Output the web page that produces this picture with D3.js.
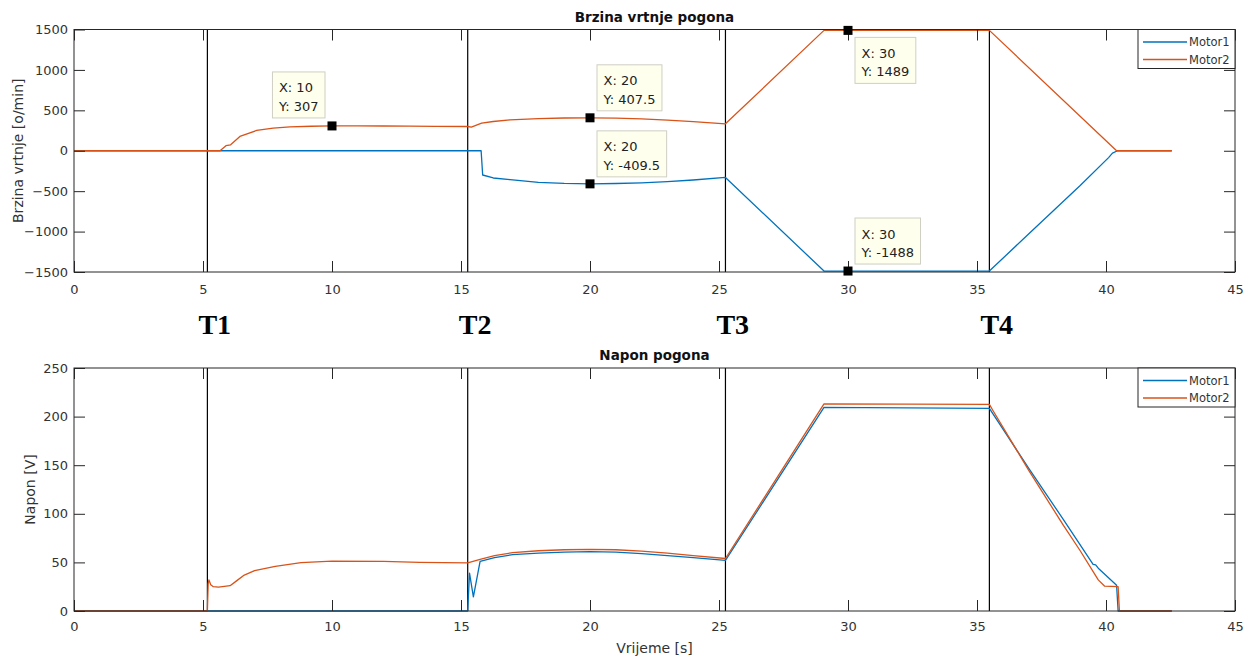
<!DOCTYPE html>
<html>
<head>
<meta charset="utf-8">
<script src="https://cdn.jsdelivr.net/npm/d3@7"></script>
<style>
  html, body { margin: 0; padding: 0; background: #fff; }
  svg { display: block; }
  text { font-family: "DejaVu Sans", sans-serif; }
</style>
</head>
<body>
<svg id="chart" width="1255" height="662"></svg>
<script>
// ---------------- DATA ----------------
const seriesNames = ["Motor1", "Motor2"];
const seriesColors = ["#0072BD", "#D95319"];
const xTicks = [0, 5, 10, 15, 20, 25, 30, 35, 40, 45];
const speedTicks = [-1500, -1000, -500, 0, 500, 1000, 1500];
const voltTicks = [0, 50, 100, 150, 200, 250];

// Speed [o/min]
const speedM1_t = [0, 15.78, 15.84, 16.25, 16.9, 18, 19, 20, 21, 22, 23, 24, 25.25, 29.07, 35.48, 37.0, 39.0, 40.1, 40.25, 40.45, 42.55];
const speedM1_v = [0, 0, -300, -337, -358, -390, -404, -409.5, -405, -397, -382, -362, -330, -1488, -1488, -1030, -430, -85, -30, 0, 0];
const speedM2_t = [0, 5.66, 5.89, 6.07, 6.43, 7.08, 7.72, 8.37, 9.2, 10, 11, 12, 13, 14, 15.26, 15.4, 15.8, 16.25, 16.9, 18, 19, 20, 21, 22, 23, 24, 25.25, 29.07, 35.48, 40.41, 42.55];
const speedM2_v = [0, 0, 62, 74, 177, 251, 280, 295, 303, 307, 308, 306, 304, 302, 300, 293, 342, 362, 383, 398, 405, 407.5, 404, 395, 380, 360, 333, 1489, 1489, 0, 0];

// Voltage [V]
const voltM1_t = [0, 15.26, 15.33, 15.48, 15.74, 16.3, 17, 18, 19, 20, 21, 22, 23, 24, 25.25, 29.07, 35.48, 37.0, 38.35, 39.5, 39.6, 39.7, 40.41, 40.47, 42.55];
const voltM1_v = [0, 0, 39, 14.5, 51, 55, 58, 59.5, 60.5, 61, 60.5, 59, 57, 55, 52, 209.5, 208.5, 147, 94, 48, 47.5, 44, 26.5, 0, 0];
const voltM2_t = [0, 5.17, 5.2, 5.23, 5.3, 5.4, 5.6, 6.05, 6.3, 6.6, 7.0, 7.8, 8.8, 10, 12, 13.4, 15.26, 15.74, 16.3, 17, 18, 19, 20, 21, 22, 23, 24, 25.25, 29.07, 35.48, 35.6, 37.0, 38.35, 39.0, 39.7, 39.95, 40.47, 40.52, 42.55];
const voltM2_v = [0, 0, 28, 32, 27, 25, 24.5, 26, 31, 37, 41.5, 46, 49.7, 51.4, 51, 50, 49.5, 53, 57, 60, 62, 63, 63.5, 63, 61.5, 59.5, 57, 54, 213, 212.5, 207, 145, 88, 62, 32, 25.5, 25, 0, 0];

// Event markers
const eventTimes = [5.17, 15.26, 25.25, 35.48];
const eventLabels = ["T1", "T2", "T3", "T4"];

// Data tips (top plot)
const tipX = [10, 20, 20, 30, 30];
const tipY = [307, 407.5, -409.5, 1489, -1488];
const tipSide = ["ul", "ur", "ur", "lr", "ur"];

// ---------------- LAYOUT ----------------
const svg = d3.select("#chart");
const L = 74, R = 1235;
const panels = [
  { top: 29.5, bottom: 272, domain: [-1500, 1500], ticks: speedTicks, title: "Brzina vrtnje pogona",
    ylabel: "Brzina vrtnje [o/min]", ylabelX: 18, xPad: 12.5,
    data: [[speedM1_t, speedM1_v], [speedM2_t, speedM2_v]] },
  { top: 368, bottom: 611, domain: [0, 250], ticks: voltTicks, title: "Napon pogona",
    ylabel: "Napon [V]", ylabelX: 30, xPad: 11,
    data: [[voltM1_t, voltM1_v], [voltM2_t, voltM2_v]] }
];
const x = d3.scaleLinear().domain([0, 45]).range([L, R]);
const frameColor = "#262626";
const textColor = "#333333";
const TICK = 11;

panels.forEach((p, pi) => {
  const y = d3.scaleLinear().domain(p.domain).range([p.bottom, p.top]);
  p.y = y;
  const g = svg.append("g");

  // vertical event lines
  g.selectAll("line.ev").data(eventTimes).enter().append("line")
    .attr("x1", d => x(d)).attr("x2", d => x(d))
    .attr("y1", p.top).attr("y2", p.bottom)
    .attr("stroke", "#000").attr("stroke-width", 1.2);

  // data lines
  const line = d3.line().x(d => x(d[0])).y(d => y(d[1]));
  p.data.forEach((s, si) => {
    const pts = s[0].map((t, i) => [t, s[1][i]]);
    g.append("path").datum(pts).attr("d", line)
      .attr("fill", "none").attr("stroke", seriesColors[si])
      .attr("stroke-width", 1.3).attr("stroke-linejoin", "round");
  });

  // axes
  const styleAxis = sel => {
    sel.select(".domain").remove();
    sel.selectAll(".tick line").attr("stroke", frameColor);
    sel.selectAll(".tick text").attr("fill", textColor)
      .style("font-family", "DejaVu Sans").style("font-size", "13px");
  };
  g.append("g").attr("transform", `translate(0,${p.bottom})`)
    .call(d3.axisBottom(x).tickValues(xTicks).tickSizeInner(-TICK).tickSizeOuter(0).tickPadding(p.xPad).tickFormat(d3.format("d")))
    .call(styleAxis);
  g.append("g").attr("transform", `translate(0,${p.top})`)
    .call(d3.axisTop(x).tickValues(xTicks).tickSizeInner(-TICK).tickSizeOuter(0).tickFormat(""))
    .call(styleAxis);
  g.append("g").attr("transform", `translate(${L},0)`)
    .call(d3.axisLeft(y).tickValues(p.ticks).tickSizeInner(-TICK).tickSizeOuter(0).tickPadding(6).tickFormat(d3.format("d")))
    .call(styleAxis);
  g.append("g").attr("transform", `translate(${R},0)`)
    .call(d3.axisRight(y).tickValues(p.ticks).tickSizeInner(-TICK).tickSizeOuter(0).tickFormat(""))
    .call(styleAxis);

  // frame
  g.append("rect").attr("x", L).attr("y", p.top).attr("width", R - L).attr("height", p.bottom - p.top)
    .attr("fill", "none").attr("stroke", frameColor).attr("stroke-width", 1);

  // title
  g.append("text").attr("x", (L + R) / 2).attr("y", p.top - 8)
    .attr("text-anchor", "middle").attr("fill", "#111")
    .style("font-size", "13.5px").style("font-weight", "bold").text(p.title);

  // y label
  g.append("text").attr("transform", `translate(${p.ylabelX},${(p.top + p.bottom) / 2}) rotate(-90)`)
    .attr("text-anchor", "middle").attr("dominant-baseline", "central")
    .attr("fill", textColor).style("font-size", "14px").text(p.ylabel);

  // legend
  const lg = g.append("g").attr("transform", `translate(1138,${p.top})`);
  lg.append("rect").attr("width", R - 1138).attr("height", 39)
    .attr("fill", "#fff").attr("stroke", frameColor).attr("stroke-width", 1);
  seriesNames.forEach((n, i) => {
    const yy = 12.5 + i * 17.5;
    lg.append("line").attr("x1", 5).attr("x2", 49).attr("y1", yy).attr("y2", yy)
      .attr("stroke", seriesColors[i]).attr("stroke-width", 1.3);
    lg.append("text").attr("x", 51).attr("y", yy).attr("dominant-baseline", "central")
      .attr("fill", textColor).style("font-size", "11.5px").text(n);
  });
});

// x label (bottom)
svg.append("text").attr("x", (L + R) / 2).attr("y", 653)
  .attr("text-anchor", "middle").attr("fill", textColor)
  .style("font-size", "14px").text("Vrijeme [s]");

// Event labels T1..T4
svg.selectAll("text.ev").data(eventTimes).enter().append("text")
  .attr("x", d => x(d) - 9).attr("y", 334)
  .style("font-family", "'Liberation Serif', 'Times New Roman', serif")
  .style("font-weight", "bold").style("font-size", "28px").attr("fill", "#000")
  .text((d, i) => eventLabels[i]);

// Data tips
const yTop = panels[0].y;
tipX.forEach((tx, i) => {
  const mx = x(tx), my = yTop(tipY[i]);
  const gt = svg.append("g");
  const t1 = gt.append("text").attr("fill", "#222").style("font-size", "13px").text("X: " + tx);
  const t2 = gt.append("text").attr("fill", "#222").style("font-size", "13px").text("Y: " + tipY[i]);
  const tw = Math.max(t1.node().getComputedTextLength(), t2.node().getComputedTextLength());
  const bw = tw + 13, bh = 46;
  let bx, by;
  if (tipSide[i] === "ul") { bx = mx - 7 - bw; by = my - 8 - bh; }
  else if (tipSide[i] === "ur") { bx = mx + 7; by = my - 7 - bh; }
  else { bx = mx + 7; by = my + 7; }
  gt.insert("rect", "text").attr("x", bx).attr("y", by).attr("width", bw).attr("height", bh)
    .attr("fill", "#FFFFEE").attr("stroke", "#CFCFC4").attr("stroke-width", 1);
  t1.attr("x", bx + 6.5).attr("y", by + 20.5);
  t2.attr("x", bx + 6.5).attr("y", by + 39);
  gt.append("rect").attr("x", mx - 4.5).attr("y", my - 4.5).attr("width", 9).attr("height", 9).attr("fill", "#000");
});
</script>
</body>
</html>
